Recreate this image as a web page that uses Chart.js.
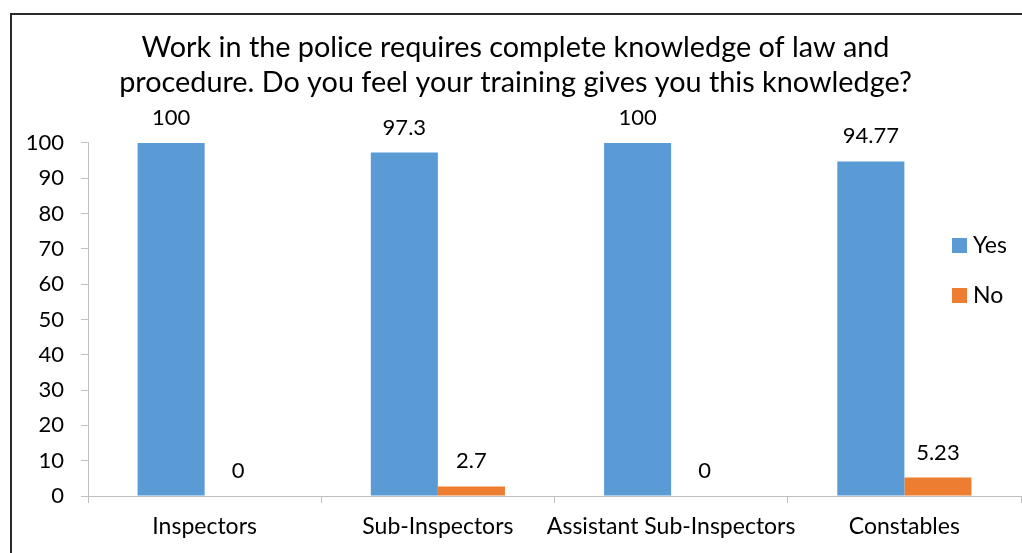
<!DOCTYPE html>
<html>
<head>
<meta charset="utf-8">
<script src="https://cdn.jsdelivr.net/npm/chart.js@4"></script>
<style>
  body { margin: 0; background: #fff; }
  #frame { position: absolute; left: 10px; top: 13px; width: 1020px; height: 560px;
           border-top: 2px solid #2a2a2a; border-left: 2px solid #2a2a2a; }
  #myChart { position: absolute; left: 0; top: 0; }
  #legend { position: absolute; left: 952px; top: 232px; font-family: Lato, sans-serif; font-size: 23px; line-height: 24px; color: #000; }
  #legend div { height: 50px; display: flex; align-items: flex-start; }
  #legend span.box { display: inline-block; width: 15px; height: 15px; margin: 6px 6px 0 0; }
</style>
</head>
<body>
<div id="frame"></div>
<canvas id="myChart" width="1022" height="553"></canvas>
<div id="legend"></div>
<script>
'use strict';

let categories = ['Inspectors', 'Sub-Inspectors', 'Assistant Sub-Inspectors', 'Constables'];
let yesValues = [100, 97.3, 100, 94.77];
let noValues = [0, 2.7, 0, 5.23];
let seriesNames = ['Yes', 'No'];
let seriesColors = ['#5b9bd5', '#ed7d31'];
let yTicks = [0, 10, 20, 30, 40, 50, 60, 70, 80, 90, 100];
let titleLines = [
  'Work in the police requires complete knowledge of law and',
  'procedure. Do you feel your training gives you this knowledge?'
];

let fontName = 'Lato, sans-serif';

// values written above each bar
let barLabels = {
  id: 'barLabels',
  afterDatasetsDraw(chart) {
    let ctx = chart.ctx;
    ctx.save();
    ctx.font = '22px ' + fontName;
    ctx.fillStyle = '#000';
    ctx.textAlign = 'center';
    ctx.textBaseline = 'alphabetic';
    chart.data.datasets.forEach((ds, i) => {
      chart.getDatasetMeta(i).data.forEach((bar, j) => {
        ctx.fillText(String(ds.data[j]), bar.x, bar.y - 18);
      });
    });
    ctx.restore();
  }
};

let legendBox = document.getElementById('legend');
for (let i = 0; i < seriesNames.length; i++) {
  let row = document.createElement('div');
  row.innerHTML = '<span class="box" style="background:' + seriesColors[i] + '"></span>' + seriesNames[i];
  legendBox.appendChild(row);
}

let ctx = document.getElementById('myChart').getContext('2d');

let myChart = new Chart(ctx, {
  type: 'bar',
  data: {
    labels: categories,
    datasets: [
      { label: seriesNames[0], data: yesValues, backgroundColor: seriesColors[0] },
      { label: seriesNames[1], data: noValues, backgroundColor: seriesColors[1] }
    ]
  },
  plugins: [barLabels],
  options: {
    responsive: false,
    animation: false,
    devicePixelRatio: 1,
    layout: { padding: { left: 10, right: 1, top: 0, bottom: 0 } },
    datasets: { bar: { categoryPercentage: 0.575, barPercentage: 1 } },
    plugins: {
      legend: { display: false },
      tooltip: { enabled: false },
      title: {
        display: true,
        text: titleLines,
        color: '#000',
        font: { family: fontName, size: 28.8, weight: 'normal', lineHeight: 1.215 },
        padding: { top: 30, bottom: 43 }
      }
    },
    scales: {
      x: {
        grid: { display: true, drawOnChartArea: false, drawTicks: true, tickLength: 7, color: '#bfbfbf', offset: true },
        border: { color: '#bfbfbf', width: 1 },
        ticks: { color: '#000', font: { family: fontName, size: 23 }, padding: 10, maxRotation: 0, autoSkip: false },
        afterFit(scale) { scale.height = 57; }
      },
      y: {
        min: 0,
        max: 100,
        afterBuildTicks(scale) { scale.ticks = yTicks.map(v => ({ value: v })); },
        grid: { display: true, drawOnChartArea: false, drawTicks: true, tickLength: 7, color: '#bfbfbf' },
        border: { color: '#bfbfbf', width: 1 },
        ticks: { color: '#000', font: { family: fontName, size: 22 }, padding: 17 },
        afterFit(scale) { scale.width = 78; }
      }
    }
  }
});
</script>
</body>
</html>
